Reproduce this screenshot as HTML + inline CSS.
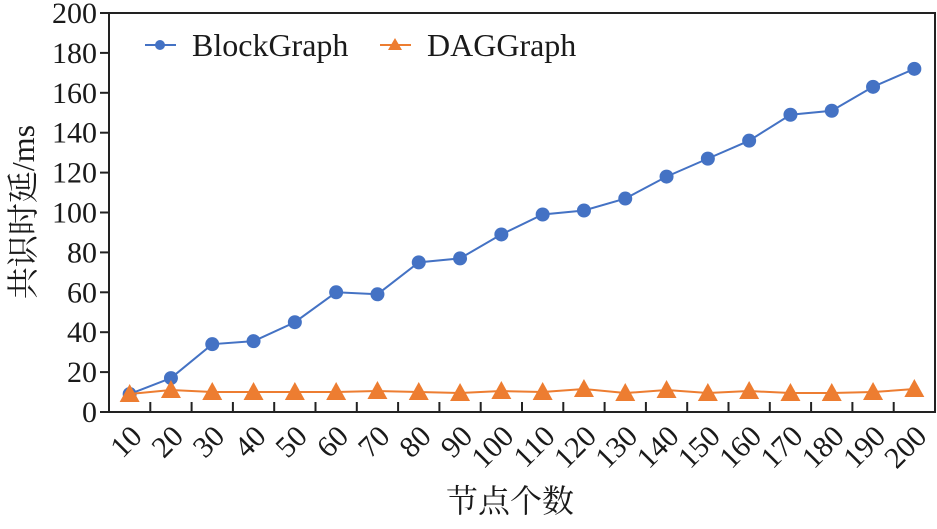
<!DOCTYPE html>
<html><head><meta charset="utf-8"><style>
body{margin:0;background:#fff}
text{font-family:"Liberation Serif","Times New Roman","Noto Serif CJK SC",serif !important;fill:#1a1a1a}
</style></head><body>
<svg width="937" height="524" font-family="'Liberation Serif', 'Noto Serif CJK SC', serif">
<g id="g"></g>
</svg>
<script>
const categories=[10,20,30,40,50,60,70,80,90,100,110,120,130,140,150,160,170,180,190,200];
const blockGraph=[9,17,34,35.5,45,60,59,75,77,89,99,101,107,118,127,136,149,151,163,172];
const dagGraph=[9,11,10,10,10,10,10.5,10,9.5,10.5,10,11.5,9.5,11,9.5,10.5,9.5,9.5,10,11.5];
const yTicks=[0,20,40,60,80,100,120,140,160,180,200];
const L=109,R=935,T=13,B=412;
const bw=(R-L)/categories.length;
const x=i=>L+bw*(i+0.5);
const y=v=>B-(v/200)*(B-T);
const g=document.getElementById('g');
const NS='http://www.w3.org/2000/svg';
const FF="'Liberation Serif','Noto Serif CJK SC',serif";
function mk(t,a,p){const e=document.createElementNS(NS,t);for(const k in a)e.setAttribute(k,a[k]);if(t==='text')e.setAttribute('font-family',FF);(p||g).appendChild(e);return e;}
const frame=mk('rect',{x:L,y:T,width:R-L,height:B-T,fill:'none',stroke:'#222','stroke-width':2});


yTicks.forEach(v=>{
 const tk=mk('line',{x1:L-9,x2:L,y1:y(v),y2:y(v),stroke:'#222','stroke-width':2});
 
 
 const t=mk('text',{x:97,y:y(v)+10,'text-anchor':'end','font-size':30});
 t.textContent=v;
 
 
});
categories.forEach((c,i)=>{
 if(i>0){const tk=mk('line',{x1:L+bw*i,x2:L+bw*i,y1:B-10,y2:B,stroke:'#222','stroke-width':2});
 
 }
 const t=mk('text',{x:0,y:0,'text-anchor':'end','font-size':30,transform:`translate(${x(i)+14},${B+26}) rotate(-45)`});
 t.textContent=c;
 
 
});
function series(vals,color,name,tri){
 const pl=mk('polyline',{points:vals.map((v,i)=>x(i)+','+y(v)).join(' '),fill:'none',stroke:color,'stroke-width':2});
 
 
 vals.forEach((v,i)=>{
  let m;
  if(tri)m=mk('polygon',{points:`${x(i)},${y(v)-10} ${x(i)-10},${y(v)+8} ${x(i)+10},${y(v)+8}`,fill:color});
  else m=mk('circle',{cx:x(i),cy:y(v),r:7,fill:color});
  
  
 });
}
series(blockGraph,'#4472c4','blockgraph',false);
series(dagGraph,'#ed7d31','daggraph',true);
const l1=mk('line',{x1:145,x2:176,y1:45,y2:45,stroke:'#4472c4','stroke-width':2});


const c1=mk('circle',{cx:160,cy:45,r:5,fill:'#4472c4'});


const t1=mk('text',{x:192,y:56,'font-size':32});t1.textContent='BlockGraph';


const l2=mk('line',{x1:380,x2:411,y1:45,y2:45,stroke:'#ed7d31','stroke-width':2});


const p2=mk('polygon',{points:'395,38 388,50 402,50',fill:'#ed7d31'});


const t2=mk('text',{x:427,y:56,'font-size':32});t2.textContent='DAGGraph';


const xt=mk('text',{x:510,y:512,'text-anchor':'middle','font-size':32});xt.textContent='节点个数';


const yt=mk('text',{x:0,y:0,'text-anchor':'middle','font-size':32,transform:'translate(34,212) rotate(-90)'});yt.textContent='共识时延/ms';


</script>
</body></html>
